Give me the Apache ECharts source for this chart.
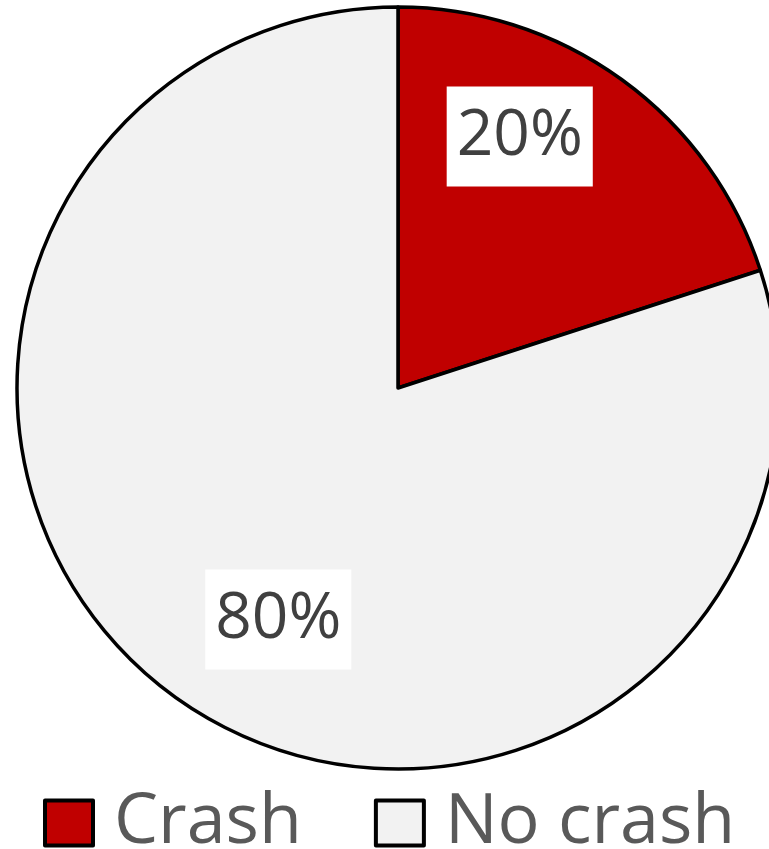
<!DOCTYPE html>
<html>
<head>
<meta charset="utf-8">
<script src="https://cdn.jsdelivr.net/npm/echarts@6/dist/echarts.min.js"></script>
<style>
  html, body { margin: 0; padding: 0; background: #fff; }
  #chart { width: 769px; height: 849px; }
</style>
</head>
<body>
<div id="chart"></div>
<script>
// Share of runs ending in a crash
const categories = ['Crash', 'No crash'];
const shares = [20, 80];
const sliceColors = ['#C00000', '#F2F2F2'];

// Nudges that move each percentage label off its default inside spot
const labelNudges = [[8, -95], [-6, 75]];

const chart = echarts.init(document.getElementById('chart'), null, { renderer: 'canvas' });

chart.setOption({
  animation: false,
  backgroundColor: '#ffffff',
  legend: {
    data: categories,
    left: 38,
    top: 783,
    itemWidth: 48,
    itemHeight: 45,
    itemGap: 72,
    icon: 'rect',
    itemStyle: { borderColor: '#000000', borderWidth: 4 },
    textStyle: {
      fontFamily: 'Open Sans',
      fontSize: 70,
      color: '#595959',
      padding: [0, 0, 0, 16]
    }
  },
  series: [{
    type: 'pie',
    center: [398, 388],
    radius: 381,
    startAngle: 90,
    clockwise: true,
    silent: true,
    data: categories.map((name, i) => ({
      name,
      value: shares[i],
      itemStyle: { color: sliceColors[i] }
    })),
    itemStyle: { borderColor: '#000000', borderWidth: 3.5 },
    label: {
      show: true,
      position: 'inside',
      formatter: '{c}%',
      fontFamily: 'Open Sans',
      fontSize: 64,
      lineHeight: 64,
      color: '#404040',
      backgroundColor: '#ffffff',
      padding: [18, 10]
    },
    labelLine: { show: false },
    labelLayout: function (params) {
      const n = labelNudges[params.dataIndex];
      return { dx: n[0], dy: n[1] };
    }
  }]
});
</script>
</body>
</html>
